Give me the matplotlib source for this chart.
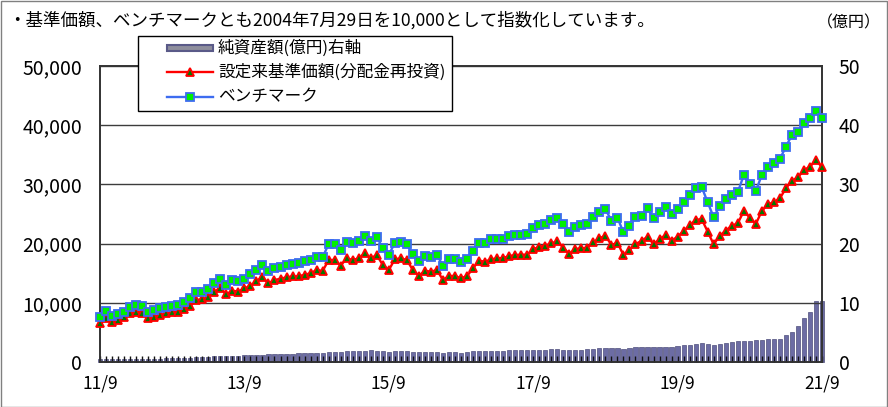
import numpy as np
import matplotlib
matplotlib.use("Agg")
import matplotlib.pyplot as plt
from matplotlib.patches import Rectangle
from matplotlib.lines import Line2D
from matplotlib.ticker import FuncFormatter

plt.rcParams['font.family'] = ['Noto Sans CJK JP', 'DejaVu Sans']

# Monthly data, 2011/9 - 2021/9
tick_labels = ["11/9", "13/9", "15/9", "17/9", "19/9", "21/9"]

benchmark = [
    7650, 8670, 7820, 8160, 8440, 9340, 9630, 9400, 8440, 8780,
    9070, 9340, 9510, 9630, 10080, 10760, 11820, 11820, 12280, 13340,
    14020, 13060, 13800, 13680, 14070, 14860, 15590, 16380, 15420, 15880,
    16100, 16330, 16600, 16750, 17080, 17230, 17790, 17680, 19930, 19930,
    18920, 20210, 20040, 20490, 21280, 20490, 21060, 19310, 18070, 20150,
    20270, 19880, 18190, 17120, 17960, 17790, 18130, 16210, 17340, 17340,
    16890, 17340, 18800, 20150, 20040, 20720, 20800, 20770, 21280, 21390,
    21510, 21560, 22570, 23140, 23310, 23980, 24320, 23250, 21900, 22860,
    23080, 23250, 24540, 25330, 25840, 23870, 24380, 21900, 22970, 24440,
    24660, 25950, 24270, 25280, 26120, 25000, 25890, 27080, 28210, 29400,
    29580, 26970, 24440, 26350, 27480, 28210, 28660, 31580, 30060, 28880,
    31580, 32880, 33560, 34290, 36370, 38340, 38850, 40420, 41160, 42450,
    41260,
]

fund_nav = [
    6650, 7380, 6810, 7090, 7540, 8220, 8500, 8330, 7380, 7650,
    7940, 8220, 8380, 8500, 8900, 9460, 10470, 10580, 11030, 11880,
    12450, 11430, 12050, 11880, 12450, 12840, 13680, 14300, 13290, 13850,
    14070, 14300, 14470, 14470, 14750, 14980, 15540, 15370, 17230, 17230,
    16270, 17510, 17230, 17510, 18360, 17510, 18070, 16380, 15540, 17340,
    17510, 17230, 15540, 14530, 15420, 15250, 15540, 13850, 14530, 14530,
    14140, 14530, 15820, 17120, 16940, 17340, 17510, 17560, 17900, 18070,
    18130, 18130, 19030, 19480, 19650, 20040, 20380, 19310, 18240, 19090,
    19200, 19310, 20210, 20890, 21330, 19760, 20150, 18070, 18920, 19930,
    20440, 21170, 19880, 20720, 21450, 20490, 21170, 22130, 23080, 23980,
    24150, 22010, 19880, 21330, 22180, 23020, 23420, 25500, 24380, 23310,
    25500, 26630, 26970, 27650, 29340, 30620, 31190, 32430, 32990, 34120,
    32880,
]

net_assets = [
    0.45, 0.45, 0.45, 0.45, 0.47, 0.48, 0.50, 0.50, 0.50, 0.52,
    0.55, 0.60, 0.62, 0.65, 0.70, 0.75, 0.80, 0.85, 0.90, 0.95,
    1.00, 1.00, 1.05, 1.05, 1.10, 1.15, 1.20, 1.25, 1.30, 1.30,
    1.35, 1.40, 1.40, 1.45, 1.50, 1.55, 1.60, 1.60, 1.70, 1.75,
    1.70, 1.80, 1.85, 1.80, 1.90, 1.95, 1.90, 1.80, 1.70, 1.85,
    1.90, 1.85, 1.75, 1.65, 1.65, 1.70, 1.65, 1.60, 1.65, 1.65,
    1.60, 1.70, 1.80, 1.85, 1.85, 1.85, 1.90, 1.90, 1.95, 1.95,
    2.00, 2.00, 2.05, 2.05, 2.10, 2.15, 2.20, 2.10, 2.00, 2.10,
    2.10, 2.15, 2.25, 2.35, 2.40, 2.35, 2.35, 2.20, 2.30, 2.50,
    2.50, 2.50, 2.55, 2.55, 2.60, 2.60, 2.65, 2.85, 2.95, 3.10,
    3.20, 3.00, 2.85, 3.05, 3.25, 3.35, 3.55, 3.55, 3.50, 3.65,
    3.70, 3.95, 3.85, 3.95, 4.50, 5.10, 6.10, 7.40, 8.50, 10.30,
    10.30,
]

W, H = 888, 407
fig = plt.figure(figsize=(W / 100, H / 100), dpi=100)

def fx(px):
    return px / W

def fy(py):
    return 1 - py / H

ax = fig.add_axes([fx(100), fy(362), fx(822) - fx(100), fy(66) - fy(362)])
ax2 = ax.twinx()
ax.set_zorder(ax2.get_zorder() + 1)
ax.patch.set_visible(False)

x = np.arange(len(benchmark))

# Net assets (right axis)
ax2.bar(x, net_assets, width=0.7, color='#6C6CA4', edgecolor='#4E4E7C',
        linewidth=0.5, clip_on=False)
ax2.set_ylim(0, 50)
ax2.set_yticks(np.arange(0, 51, 10))
ax2.tick_params(axis='y', length=0, labelsize=14, pad=12)

# Index lines (left axis)
fund_style = dict(color='#FF0000', lw=1.7, marker='^', ms=6.2, mfc='#007A00',
                  mec='#FF0000', mew=1.3)
bench_style = dict(color='#3D6CF0', lw=1.7, marker='s', ms=5.6, mfc='#00F000',
                   mec='#3D6CF0', mew=1.3)
ax.plot(x, fund_nav, clip_on=False, zorder=3, **fund_style)
ax.plot(x, benchmark, clip_on=False, zorder=4, **bench_style)

ax.set_xlim(0, len(x) - 1)
ax.set_ylim(0, 50000)
ax.set_yticks(np.arange(0, 50001, 10000))
ax.yaxis.set_major_formatter(FuncFormatter(lambda v, p: f"{int(v):,}"))
ax.yaxis.grid(True, color='#3C3C3C', lw=1.0)
ax.set_axisbelow(True)
ax.tick_params(axis='y', length=0, labelsize=14, pad=13)

ax.set_xticks(np.arange(0, len(x), 24))
ax.set_xticklabels(tick_labels)
ax.set_xticks(x, minor=True)
ax.tick_params(axis='x', which='both', direction='in', length=4, width=1,
               color='#111111', labelsize=12.5, pad=9)

for a in (ax, ax2):
    for s in ('left', 'right', 'bottom', 'top'):
        a.spines[s].set_color('#333333')
        a.spines[s].set_linewidth(1.2)

# Header texts
fig.text(fx(8), fy(20), "・基準価額、ベンチマークとも2004年7月29日を10,000として指数化しています。",
         fontsize=12.6, va='center', ha='left')
fig.text(fx(881), fy(23), "（億円）", fontsize=11.5, va='center', ha='right')

# Legend box
fig.patches.append(Rectangle((fx(138), fy(111)), fx(452) - fx(138), fy(36) - fy(111),
                             transform=fig.transFigure, facecolor='white',
                             edgecolor='black', lw=1.0, zorder=10))
rows = [48, 72, 97]
fig.patches.append(Rectangle((fx(167), fy(rows[0] + 3)), fx(46), fy(0) - fy(6),
                             transform=fig.transFigure, facecolor='#8E8E9C',
                             edgecolor='#5A5A88', lw=1.5, zorder=11))
for yy, st in ((rows[1], fund_style), (rows[2], bench_style)):
    fig.lines.append(Line2D([fx(167), fx(190), fx(213)], [fy(yy)] * 3,
                            transform=fig.transFigure, markevery=[1], zorder=11, **st))
legend_labels = ["純資産額(億円)右軸", "設定来基準価額(分配金再投資)", "ベンチマーク"]
for yy, lab in zip(rows, legend_labels):
    fig.text(fx(218), fy(yy), lab, fontsize=12, va='center', ha='left', zorder=12)

# Outer frame
fig.patches.append(Rectangle((0.5 / W, 0.5 / H), 1 - 1.5 / W, 1 - 1.5 / H,
                             transform=fig.transFigure, fill=False,
                             edgecolor='#808080', lw=1.0))

fig.savefig("out.png", dpi=100)
